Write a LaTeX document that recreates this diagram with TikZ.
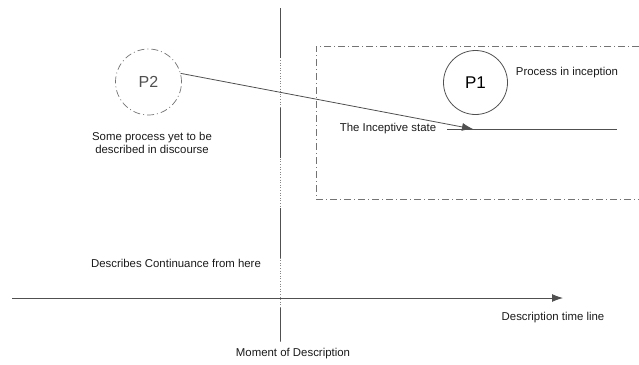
\documentclass[tikz,border=0pt]{standalone}
\usepackage{fontspec}
\setmainfont{Liberation Sans}
\usetikzlibrary{arrows.meta}
\definecolor{ink}{HTML}{505050}
\definecolor{txt}{HTML}{1A1A1A}
\begin{document}
\begin{tikzpicture}[x=1pt,y=-1pt,
  lbl/.style={font=\fontsize{11.4}{13.5}\selectfont, text=txt, inner sep=0pt},
  proc/.style={circle, draw=ink, line width=0.8pt, minimum size=#1, inner sep=0pt},
  dashdot/.style={draw=ink!80, line width=0.7pt, dash pattern=on 7pt off 3pt on 1pt off 3pt},
  tip/.style={-{Latex[length=11pt,width=8pt]}}
]
\useasboundingbox (0,0) rectangle (639,364);

% region of the process in inception
\draw[dashdot] (639,46) -- (316,46) -- (316,199) -- (639,199);

% moment of description: solid stretches joined by dotted gaps
\draw[ink!70, line width=0.6pt, dotted] (280,8) -- (280,341);
\draw[ink, line width=0.8pt, dash pattern=on 50pt off 50pt] (280,8) -- (280,341);

% processes
\node[proc=66pt, dashdot] (p2) at (148.5,82) {};
\node[font=\fontsize{16}{18}\selectfont, text=ink] at (p2) {P2};
\node[proc=64pt] (p1) at (475.5,82.5) {};
\node[font=\fontsize{17}{20}\selectfont, text=black] at (p1) {P1};

% inceptive state
\coordinate (s0) at (447,129);
\coordinate (tip) at (473,129);
\coordinate (s1) at (617,129);
\draw[ink, line width=0.8pt] (s0) -- (s1);
\draw[ink, line width=0.8pt, tip] (p2.15) -- (tip);

% description time line
\coordinate (t0) at (12,298);
\coordinate (t1) at (563,298);
\draw[ink, line width=0.9pt, tip] (t0) -- (t1);

% labels
\node[lbl] (pin) at (567,73) {Process in inception};
\node[lbl] (ist) at (388,129) {The Inceptive state};
\node[lbl, align=center] (yet) at (152,143) {Some process yet to be\\[0pt]described in discourse};
\node[lbl] (cont) at (176,263) {Describes Continuance from here};
\node[lbl] (dtl) at (553,318) {Description time line};
\node[lbl] (mod) at (293,354) {Moment of Description};
\end{tikzpicture}
\end{document}
